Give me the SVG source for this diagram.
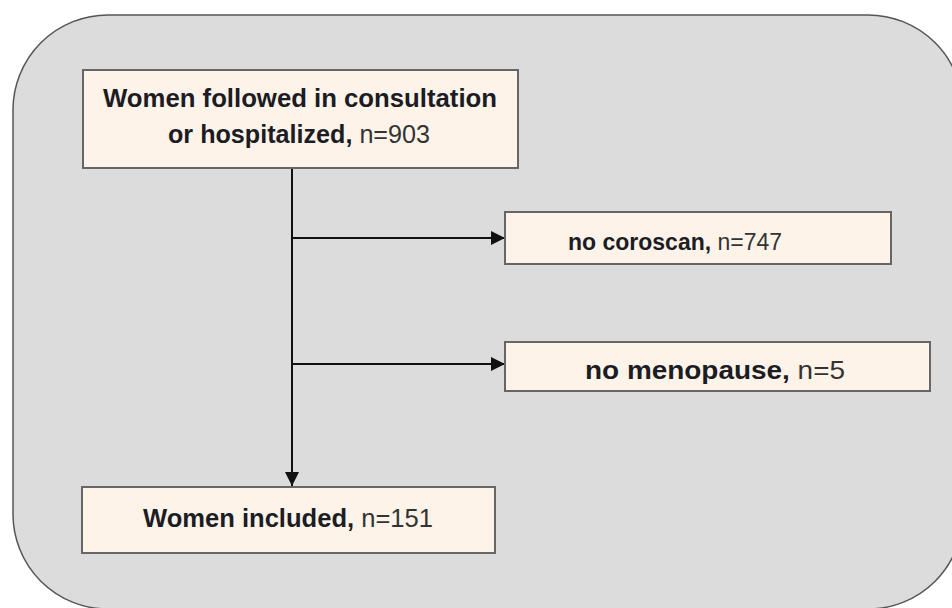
<svg xmlns="http://www.w3.org/2000/svg" width="952" height="608" viewBox="0 0 952 608">
<style>
.box{fill:#fef3e9;stroke:#666;stroke-width:2}
.t{font-family:"Liberation Sans",Arial,sans-serif;font-size:25px;fill:#1c1c24}
.b{font-weight:bold}
.r{fill:#333}
.c{stroke:#111;stroke-width:2;fill:none}
</style>
<defs>
<marker id="ah2" viewBox="0 0 10 10" refX="10" refY="5" markerWidth="14" markerHeight="14" markerUnits="userSpaceOnUse" orient="auto">
<path d="M0,0 L10,5 L0,10 z" fill="#111"/>
</marker>
</defs>
<rect x="13" y="15" width="950" height="594" rx="95" ry="95" fill="#dcdcdc" stroke="#555" stroke-width="1.5"/>
<g id="connectors">
<path class="c" d="M292,168 L292,486" marker-end="url(#ah2)"/>
<path class="c" d="M292,238 L505,238" marker-end="url(#ah2)"/>
<path class="c" d="M292,364 L505,364" marker-end="url(#ah2)"/>
</g>
<g id="n1">
<rect class="box" x="83" y="70" width="435" height="98"/>
<text class="t" x="103" y="107" textLength="394" lengthAdjust="spacingAndGlyphs"><tspan class="b">Women followed in consultation</tspan></text>
<text class="t" x="168" y="143" textLength="262" lengthAdjust="spacingAndGlyphs"><tspan class="b">or hospitalized,</tspan><tspan class="r"> n=903</tspan></text>
</g>
<g id="n2">
<rect class="box" x="505" y="212" width="386" height="52"/>
<text class="t" x="568" y="250" style="font-size:23px"><tspan class="b">no coroscan,</tspan><tspan class="r"> n=747</tspan></text>
</g>
<g id="n3">
<rect class="box" x="505" y="342" width="425" height="49"/>
<text class="t" x="585" y="379" textLength="260" lengthAdjust="spacingAndGlyphs"><tspan class="b">no menopause,</tspan><tspan class="r"> n=5</tspan></text>
</g>
<g id="n4">
<rect class="box" x="82" y="487" width="413" height="66"/>
<text class="t" x="143" y="527" textLength="290" lengthAdjust="spacingAndGlyphs"><tspan class="b">Women included,</tspan><tspan class="r"> n=151</tspan></text>
</g>
</svg>
